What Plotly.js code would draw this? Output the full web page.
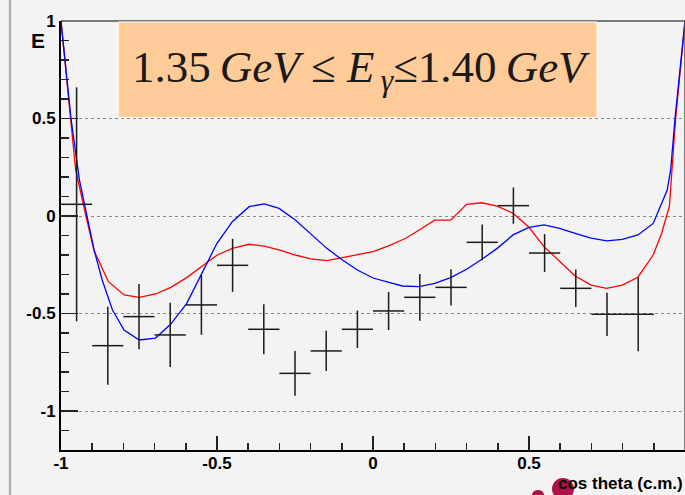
<!DOCTYPE html>
<html>
<head>
<meta charset="utf-8">
<script src="https://cdn.plot.ly/plotly-3.0.1.min.js"></script>
<style>html,body{margin:0;padding:0;background:#f3f3f3;overflow:hidden}#chart{width:685px;height:495px}</style>
</head>
<body>
<div id="chart"></div>
<script>
// Data points (cos theta bins, E values, stat errors)
const xPts = [-0.95,-0.85,-0.75,-0.65,-0.55,-0.45,-0.35,-0.25,-0.15,-0.05,0.05,0.15,0.25,0.35,0.45,0.55,0.65,0.75,0.85];
const yPts = [0.06,-0.665,-0.516,-0.61,-0.456,-0.253,-0.581,-0.807,-0.692,-0.581,-0.487,-0.417,-0.366,-0.135,0.053,-0.19,-0.371,-0.504,-0.504];
const yErr = [0.6,0.2,0.167,0.165,0.153,0.136,0.128,0.115,0.103,0.096,0.098,0.12,0.093,0.092,0.093,0.097,0.096,0.111,0.19];
const xHalfWidth = 0.05;

// Red model curve
const redX = [-1,-0.968,-0.953,-0.92,-0.894,-0.848,-0.798,-0.749,-0.697,-0.648,-0.597,-0.547,-0.499,-0.451,-0.397,-0.349,-0.301,-0.249,-0.2,-0.148,-0.098,-0.05,0.0,0.048,0.105,0.148,0.198,0.249,0.3,0.349,0.398,0.449,0.5,0.548,0.598,0.648,0.699,0.749,0.799,0.849,0.898,0.925,0.95,0.97,1.0];
const redY = [1,0.5,0.236,0,-0.178,-0.337,-0.405,-0.417,-0.4,-0.366,-0.316,-0.256,-0.2,-0.166,-0.145,-0.154,-0.174,-0.2,-0.22,-0.229,-0.214,-0.2,-0.183,-0.154,-0.114,-0.072,-0.021,-0.021,0.06,0.068,0.051,0.014,-0.058,-0.157,-0.234,-0.308,-0.354,-0.371,-0.354,-0.314,-0.2,-0.09,0.05,0.5,1];

// Blue model curve
const blueX = [-1,-0.968,-0.941,-0.894,-0.868,-0.835,-0.798,-0.749,-0.697,-0.648,-0.597,-0.547,-0.5,-0.451,-0.397,-0.349,-0.301,-0.249,-0.2,-0.148,-0.098,-0.05,0.0,0.048,0.094,0.148,0.198,0.249,0.3,0.349,0.398,0.449,0.5,0.548,0.598,0.648,0.699,0.749,0.799,0.849,0.898,0.943,0.954,0.968,1.0];
const blueY = [1,0.5,0.185,-0.174,-0.328,-0.482,-0.585,-0.636,-0.626,-0.554,-0.448,-0.285,-0.14,-0.029,0.048,0.062,0.039,-0.021,-0.089,-0.166,-0.226,-0.277,-0.318,-0.337,-0.359,-0.362,-0.345,-0.316,-0.273,-0.222,-0.166,-0.097,-0.058,-0.046,-0.063,-0.089,-0.114,-0.128,-0.12,-0.097,-0.038,0.133,0.236,0.5,1];

// Tick labels
const xTickVals = [-1,-0.5,0,0.5,1];
const xTickText = ['-1','-0.5','0','0.5','1'];
const yTickVals = [-1,-0.5,0,0.5,1];
const yTickText = ['-1','-0.5','0','0.5','1'];

const tickFont = {family:'Liberation Sans, Arial, sans-serif', size:17, color:'#000', weight:'bold'};

const traces = [
  {x: redX, y: redY, mode:'lines', line:{color:'#ff0000', width:1.3}, hoverinfo:'skip'},
  {x: blueX, y: blueY, mode:'lines', line:{color:'#0000ff', width:1.3}, hoverinfo:'skip'},
  {x: xPts, y: yPts, mode:'markers', marker:{size:1, color:'rgba(0,0,0,0)'},
   error_y:{type:'data', array:yErr, visible:true, color:'#1a1a1a', thickness:1.5, width:0},
   error_x:{type:'constant', value:xHalfWidth, visible:true, color:'#1a1a1a', thickness:1.5, width:0},
   hoverinfo:'skip'}
];

const layout = {
  width:685, height:495,
  margin:{l:61, r:0, t:21, b:45, pad:0},
  paper_bgcolor:'#f3f3f3', plot_bgcolor:'#f3f3f3',
  showlegend:false,
  xaxis:{range:[-1,1], showgrid:false, zeroline:false, showline:true, linecolor:'#000', linewidth:2,
    tickmode:'array', tickvals:xTickVals, ticktext:xTickText, ticks:'inside', ticklen:14, tickwidth:1.5, tickcolor:'#222',
    tickfont:tickFont, ticklabelstandoff:-3,
    minor:{dtick:0.1, tick0:0, ticks:'inside', ticklen:7, tickwidth:1.5, tickcolor:'#222', showgrid:false}},
  yaxis:{range:[-1.2,1], showgrid:true, gridcolor:'#888', griddash:'dot', gridwidth:1, zeroline:false,
    showline:true, linecolor:'#000', linewidth:2,
    tickmode:'array', tickvals:yTickVals, ticktext:yTickText, ticks:'inside', ticklen:17, tickwidth:1.5, tickcolor:'#222',
    tickfont:tickFont,
    minor:{dtick:0.1, tick0:0, ticks:'inside', ticklen:8, tickwidth:1.5, tickcolor:'#222', showgrid:false}},
  shapes:[
    {type:'line', xref:'paper', yref:'paper', x0:0, x1:1, y0:1, y1:1, line:{color:'#000', width:1}},
    {type:'line', xref:'paper', yref:'paper', x0:1, x1:1, y0:0, y1:1, line:{color:'#555', width:1.5}},
    {type:'rect', xref:'x', yref:'y', x0:-0.817, x1:0.718, y0:0.505, y1:0.995, fillcolor:'#ffcc99', line:{color:'#ffffff', width:1}},
    {type:'line', xref:'paper', yref:'paper', x0:-0.0817, x1:-0.0817, y0:-0.2, y1:1.1, line:{color:'#b0b0b0', width:2.5}},
    {type:'circle', xref:'paper', yref:'paper', x0:(552-61)/624, x1:(574-61)/624, y0:(450-500)/429, y1:(450-478)/429, fillcolor:'#b0104a', line:{width:0}},
    {type:'circle', xref:'paper', yref:'paper', x0:(532-61)/624, x1:(544-61)/624, y0:(450-500)/429, y1:(450-490)/429, fillcolor:'#b0104a', line:{width:0}}
  ],
  annotations:[
    {xref:'x', yref:'y', x:-0.037, y:0.75, xanchor:'center', yanchor:'middle', showarrow:false,
     text:'1.35&#8201;<i>GeV</i> ≤ <i>E</i><sub>&#8201;<i>γ</i></sub>≤1.40&#8201;<i>GeV</i>',
     font:{family:'Liberation Serif, Times New Roman, serif', size:45, color:'#1a1a1a'}},
    {xref:'paper', yref:'paper', x:(38-61)/624, y:(450-41)/429, xanchor:'center', yanchor:'middle', showarrow:false,
     text:'E', font:{family:'Liberation Sans, Arial, sans-serif', size:21, color:'#000', weight:'bold'}},
    {xref:'paper', yref:'paper', x:1, y:(450-483)/429, xanchor:'right', yanchor:'middle', showarrow:false,
     text:'cos theta (c.m.)', font:{family:'Liberation Sans, Arial, sans-serif', size:17, color:'#000', weight:'bold'}}
  ]
};

Plotly.newPlot('chart', traces, layout, {displayModeBar:false, staticPlot:true});
</script>
</body>
</html>
